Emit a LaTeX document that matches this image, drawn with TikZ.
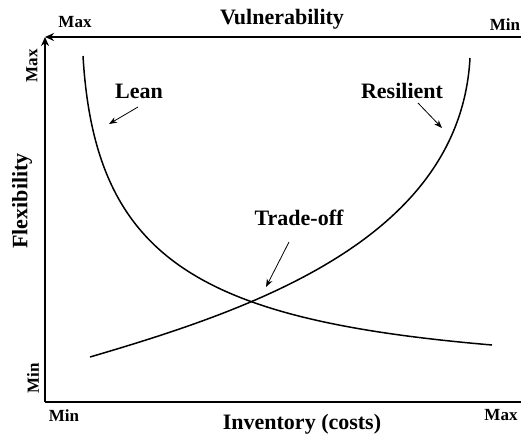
\documentclass[tikz,border=0pt]{standalone}
\usepackage{fontspec}
\setmainfont{Liberation Serif}
\usetikzlibrary{arrows.meta}

\begin{document}
\begin{tikzpicture}[x=1pt,y=-1pt]

      \useasboundingbox (0,0) rectangle (521,436);

      % axes
      \coordinate (o)  at (45,402);
      \coordinate (tl) at (45,37);
      \coordinate (tr) at (521,37);
      \coordinate (br) at (521,402);
      \draw[line width=2pt,-{Stealth[length=9pt,width=8pt]}] (o) -- (tl);
      \draw[line width=2pt,-{Stealth[length=9pt,width=8pt]}] (tr) -- (tl);
      \draw[line width=2pt] (o) -- (br);

      \begin{scope}[every node/.style={font=\bfseries\fontsize{22}{24}\selectfont}]
        \node (vul)   at (282,19)  {Vulnerability};
        \node (inv)   at (302,424) {Inventory (costs)};
        \node[rotate=90] (flex) at (22,201) {Flexibility};
        \node (lean)  at (139,91)  {Lean};
        \node (res)   at (402,91)  {Resilient};
        \node (trade) at (299,218) {Trade-off};
      \end{scope}

      \begin{scope}[every node/.style={font=\bfseries\fontsize{17}{19}\selectfont}]
        \node (xmax) at (75,22)   {Max};
        \node (xmin) at (505,25)  {Min};
        \node[rotate=90] (ymax) at (32,66)  {Max};
        \node[rotate=90] (ymin) at (33,378) {Min};
        \node (imin) at (64,416)  {Min};
        \node (imax) at (501,415) {Max};
      \end{scope}

      % curves
      \draw[line width=1.5pt] (83,56) .. controls (95,260) and (200,320) .. (492,345);
      \draw[line width=1.5pt] (90,357) .. controls (250,310) and (460,240) .. (470,58);

      % pointers
      \coordinate (leanA)  at (138,107);
      \coordinate (leanB)  at (109,124);
      \coordinate (resA)   at (418,103);
      \coordinate (resB)   at (442,128);
      \coordinate (tradeA) at (289,242);
      \coordinate (tradeB) at (266,287);

      \begin{scope}[every edge/.style={draw,line width=0.8pt,-{Stealth[length=8pt,width=6pt]}}]
        \path (leanA)  edge (leanB);
        \path (resA)   edge (resB);
        \path (tradeA) edge (tradeB);
      \end{scope}

    \end{tikzpicture}
\end{document}
